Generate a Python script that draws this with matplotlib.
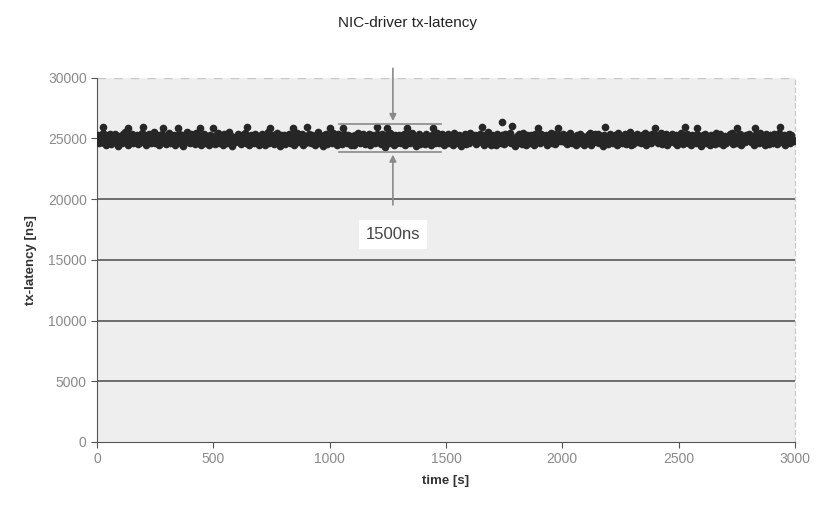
import numpy as np
import matplotlib.pyplot as plt

plt.rcParams['font.family'] = ['Liberation Sans', 'DejaVu Sans']

# main band, one reading every 5 s from 0 to 2995 s
time_s = list(range(0, 3000, 5))
latency_ns = [
    24900, 25300, 24600, 25100, 24750, 25450, 24650, 25050, 24500, 25250, 24850, 25400, 24550, 25150, 24800, 25350, 24700, 24950, 24400, 25200,
    25050, 24600, 25350, 24850, 25500, 24700, 25000, 24450, 25250, 24900, 25400, 24650, 25100, 24800, 25300, 24550, 25200, 24950, 24700, 25450,
    24800, 25250, 24500, 25050, 24900, 25400, 24650, 25150, 24750, 25500, 24600, 24950, 25300, 24450, 25100, 24850, 25350, 24700, 25000, 24550,
    25200, 24750, 25450, 24600, 25050, 24900, 25300, 24500, 25150, 24800, 25400, 24650, 24950, 25250, 24400, 25100, 24850, 25500, 24700, 25000,
    24650, 25350, 24850, 25150, 24550, 25450, 24950, 24700, 25250, 24500, 25050, 24800, 25400, 24600, 25200, 24900, 24450, 25300, 24750, 25100,
    25000, 24550, 25300, 24800, 25450, 24650, 25150, 24900, 24500, 25350, 24750, 25050, 24600, 25500, 24850, 25200, 24400, 25100, 24950, 24700,
    24850, 25400, 24700, 25000, 24550, 25250, 24800, 25450, 24600, 25150, 24950, 24500, 25300, 24750, 25050, 24650, 25400, 24900, 25200, 24450,
    25100, 24650, 25350, 24900, 24500, 25200, 24750, 25500, 24600, 25000, 24850, 25300, 24550, 25150, 24700, 25450, 24950, 24400, 25250, 24800,
    24750, 25300, 24550, 25100, 24900, 25400, 24600, 24950, 25250, 24500, 25150, 24800, 25450, 24700, 25050, 24850, 25350, 24450, 25200, 24650,
    25150, 24700, 25400, 24850, 24600, 25300, 24950, 24500, 25200, 24800, 25500, 24650, 25050, 24900, 24400, 25250, 24750, 25350, 24550, 25000,
    24950, 25250, 24600, 25450, 24800, 25050, 24500, 25350, 24700, 25150, 24900, 24550, 25400, 24750, 25100, 24650, 25300, 24850, 24450, 25200,
    25050, 24500, 25300, 24750, 25450, 24900, 24600, 25200, 24850, 25400, 24550, 25100, 24950, 24700, 25350, 24450, 25250, 24800, 25000, 24650,
    24700, 25350, 24850, 25000, 24550, 25400, 24750, 25150, 24300, 25250, 24900, 24600, 25450, 24800, 25050, 24500, 25300, 24950, 24650, 25200,
    25250, 24650, 25050, 24850, 25400, 24500, 25150, 24750, 25300, 24600, 24950, 25450, 24700, 25100, 24400, 25200, 24850, 25350, 24550, 25000,
    24850, 25150, 24550, 25400, 24700, 25000, 24950, 24450, 25300, 24800, 25200, 24650, 25450, 24900, 24600, 25100, 24750, 25350, 24500, 25050,
    25100, 24800, 25350, 24600, 25200, 24950, 24500, 25450, 24750, 25000, 24650, 25300, 24850, 24400, 25150, 24700, 25400, 24550, 25250, 24900,
    24600, 25450, 24900, 25150, 24750, 25300, 24550, 25050, 24850, 25400, 24700, 24950, 25250, 24500, 25100, 24800, 25500, 24650, 25000, 24450,
    25300, 24750, 25050, 24500, 25400, 24850, 25150, 24650, 25250, 24900, 24550, 25350, 24800, 25100, 24700, 25450, 24600, 25000, 24950, 24400,
    24950, 25200, 24650, 25350, 24850, 24550, 25450, 24750, 25100, 24500, 25300, 24900, 24600, 25250, 24800, 25050, 24450, 25400, 24700, 25150,
    25150, 24600, 25400, 24900, 25050, 24700, 25300, 24500, 25200, 24850, 25450, 24650, 24950, 25350, 24550, 25100, 24800, 25250, 24750, 25000,
    24800, 25350, 24700, 25000, 24550, 25250, 24900, 25450, 24600, 25150, 24750, 25050, 24450, 25300, 24850, 25400, 24650, 25200, 24950, 24500,
    25050, 24650, 25250, 24850, 25450, 24500, 25100, 24800, 25350, 24700, 24950, 25400, 24600, 25200, 24900, 24400, 25300, 24750, 25150, 24550,
    24700, 25400, 24950, 25100, 24600, 25300, 24800, 24500, 25450, 24850, 25200, 24650, 25050, 24900, 25350, 24550, 25150, 24750, 25500, 24450,
    25250, 24550, 25050, 24800, 25400, 24700, 25150, 24900, 24600, 25300, 24850, 25450, 24500, 25000, 24750, 25250, 24650, 25350, 24950, 25100,
    24900, 25300, 24600, 25200, 24750, 25450, 24550, 25050, 24850, 25350, 24450, 25150, 24950, 24700, 25400, 24800, 25000, 24650, 25250, 24500,
    25100, 24700, 25450, 24900, 24550, 25250, 24800, 25350, 24650, 25050, 24950, 24500, 25300, 24750, 25150, 24600, 25400, 24850, 25000, 24400,
    24750, 25250, 24850, 25400, 24600, 25100, 24950, 24500, 25300, 24700, 25200, 24550, 25450, 24800, 25050, 24650, 25350, 24900, 24450, 25150,
    25200, 24600, 25050, 24850, 25350, 24750, 25450, 24550, 25150, 24900, 24650, 25300, 24800, 25400, 24500, 25000, 24950, 24700, 25250, 24850,
    24850, 25400, 24700, 25150, 24950, 24500, 25300, 24800, 25050, 24600, 25450, 24750, 25200, 24900, 24450, 25350, 24650, 25100, 24550, 25250,
    25000, 24650, 25350, 24800, 25200, 24550, 25450, 24900, 24700, 25100, 24850, 25300, 24500, 25050, 24750, 25400, 24600, 25250, 24950, 24800,
]

# the isolated points sticking out above the band
peak_t = [26, 133, 198, 284, 348, 443, 498, 644, 743, 842, 902, 1001, 1057, 1203,
          1246, 1332, 1444, 1655, 1741, 1784, 1896, 1981, 2183, 2398, 2527, 2579,
          2751, 2828, 2935]
peak_ns = [25950, 25900, 25950, 25850, 25900, 25850, 25900, 25950, 25900, 25850,
           25950, 25900, 25850, 25950, 25900, 25850, 25900, 25950, 26350, 26050,
           25900, 25850, 25950, 25900, 25950, 25850, 25900, 25850, 25950]

# annotation of the spread
band_hi = 26200
band_lo = 23900
band_t0, band_t1 = 1040, 1480
arrow_t = 1272


def paintLatency():
    fig = plt.figure(figsize=(8.16, 5.08), dpi=100)
    ax = fig.add_axes([0.119, 0.13, 0.855, 0.717])
    ax.set_facecolor('#eeeeee')

    for y in [5000, 10000, 15000, 20000, 25000]:
        ax.axhline(y, color='#4a4a4a', lw=1.1, zorder=1)
    ax.axhline(30000, color='#c8c8c8', lw=1, ls=(0, (6, 6)), zorder=1)

    ax.plot(time_s, latency_ns, 'o', color='#262626', ms=5.5, mew=0, zorder=3)
    ax.plot(peak_t, peak_ns, 'o', color='#262626', ms=5.5, mew=0, zorder=3)

    ax.plot([band_t0, band_t1], [band_hi, band_hi], color='#8a8a8a', lw=1.2, zorder=4)
    ax.plot([band_t0, band_t1], [band_lo, band_lo], color='#8a8a8a', lw=1.2, zorder=4)
    ax.annotate('', xy=(arrow_t, band_hi), xytext=(arrow_t, 31000),
                arrowprops=dict(arrowstyle='-|>', color='#8a8a8a', lw=1.2),
                annotation_clip=False, zorder=4)
    ax.annotate('', xy=(arrow_t, band_lo), xytext=(arrow_t, 19300),
                arrowprops=dict(arrowstyle='-|>', color='#8a8a8a', lw=1.2), zorder=4)
    ax.text(arrow_t, 17100, '1500ns', ha='center', va='center', fontsize=12,
            color='#444444', zorder=5,
            bbox=dict(boxstyle='square,pad=0.4', fc='white', ec='none'))

    ax.set_xlim(0, 3000)
    ax.set_ylim(0, 30000)
    ax.set_xticks(range(0, 3001, 500))
    ax.set_yticks(range(0, 30001, 5000))
    ax.tick_params(direction='out', length=4, colors='#555555',
                   labelcolor='#8a8a8a', labelsize=10)
    for s in ['left', 'bottom']:
        ax.spines[s].set_color('#555555')
    ax.spines['top'].set_visible(False)
    ax.spines['right'].set_color('#c8c8c8')
    ax.spines['right'].set_linestyle((0, (4, 3)))

    ax.set_xlabel('time [s]', fontsize=9.5, color='#333333', fontweight='bold', labelpad=6)
    ax.set_ylabel('tx-latency [ns]', fontsize=9.5, color='#333333', fontweight='bold', labelpad=8)
    fig.text(0.5, 0.955, 'NIC-driver tx-latency', ha='center', va='center',
             fontsize=11, color='#222222')

    plt.savefig('out.png', dpi=100)


if __name__ == '__main__':
    paintLatency()
